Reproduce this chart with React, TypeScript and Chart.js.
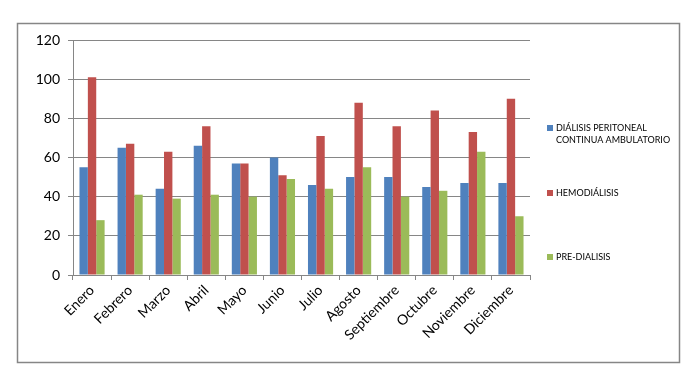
import React, { useEffect, useRef } from "react";
import { Chart, registerables } from "chart.js";

Chart.register(...registerables);

const categories = ["Enero", "Febrero", "Marzo", "Abril", "Mayo", "Junio", "Julio", "Agosto", "Septiembre", "Octubre", "Noviembre", "Diciembre"];
const dialisisPeritoneal = [55, 65, 44, 66, 57, 60, 46, 50, 50, 45, 47, 47];
const hemodialisis = [101, 67, 63, 76, 57, 51, 71, 88, 76, 84, 73, 90];
const preDialisis = [28, 41, 39, 41, 40, 49, 44, 55, 40, 43, 63, 30];
const seriesLabels = [["DIÁLISIS PERITONEAL", "CONTINUA AMBULATORIO"], ["HEMODIÁLISIS"], ["PRE-DIALISIS"]];
const seriesColors = ["#4F81BD", "#C0504D", "#9BBB59"];
const legendY = [134, 193, 257];

const FONT = "Lato, 'Open Sans', sans-serif";

const framePlugin = {
  id: "frame",
  beforeDraw(chart: any) {
    const ctx = chart.ctx;
    ctx.save();
    ctx.fillStyle = "#ffffff";
    ctx.fillRect(0, 0, chart.width, chart.height);
    ctx.strokeStyle = "#868686";
    ctx.lineWidth = 1.5;
    ctx.strokeRect(17.5, 23.5, 662, 339);
    ctx.restore();
  },
  afterDraw(chart: any) {
    const ctx = chart.ctx;
    ctx.save();
    ctx.font = "9px " + FONT;
    ctx.textBaseline = "middle";
    ctx.fillStyle = "#000";
    chart.data.datasets.forEach((ds: any, i: number) => {
      const lines = seriesLabels[i];
      const y0 = legendY[i] - ((lines.length - 1) * 12) / 2;
      ctx.fillStyle = ds.backgroundColor;
      ctx.fillRect(547, y0 - 3, 6, 6);
      ctx.fillStyle = "#000";
      lines.forEach((l, j) => ctx.fillText(l, 556, y0 + j * 12));
    });
    ctx.restore();
  },
};

export default function App() {
  const ref = useRef<HTMLCanvasElement>(null);
  useEffect(() => {
    if (!ref.current) return;
    const chart = new Chart(ref.current, {
      type: "bar",
      data: {
        labels: categories,
        datasets: [
          { label: seriesLabels[0].join(" "), data: dialisisPeritoneal, backgroundColor: seriesColors[0] },
          { label: seriesLabels[1].join(" "), data: hemodialisis, backgroundColor: seriesColors[1] },
          { label: seriesLabels[2].join(" "), data: preDialisis, backgroundColor: seriesColors[2] },
        ],
      },
      options: {
        animation: false,
        responsive: false,
        maintainAspectRatio: false,
        layout: { padding: { left: 0, right: 163, top: 40, bottom: 0 } },
        datasets: { bar: { barPercentage: 1, categoryPercentage: 0.66 } },
        plugins: { legend: { display: false }, tooltip: { enabled: false } },
        scales: {
          y: {
            min: 0,
            max: 120,
            ticks: { stepSize: 20, color: "#000", font: { family: FONT, size: 14 }, padding: 8 },
            grid: { color: "#868686", lineWidth: 1, tickLength: 5, tickColor: "#868686" },
            border: { color: "#868686", width: 1 },
            afterFit(scale: any) { scale.width = 73; },
          },
          x: {
            ticks: { color: "#000", font: { family: FONT, size: 14 }, minRotation: 45, maxRotation: 45, padding: 2 },
            grid: { display: true, drawOnChartArea: false, tickLength: 5, color: "#868686", offset: true },
            border: { color: "#868686", width: 1 },
            afterFit(scale: any) { scale.height = 112; },
          },
        },
      },
      plugins: [framePlugin],
    });
    return () => chart.destroy();
  }, []);
  return (
    <div style={{ position: "absolute", left: 0, top: 0, width: 693, height: 387 }}>
      <canvas ref={ref} width={693} height={387} style={{ display: "block" }} />
    </div>
  );
}
